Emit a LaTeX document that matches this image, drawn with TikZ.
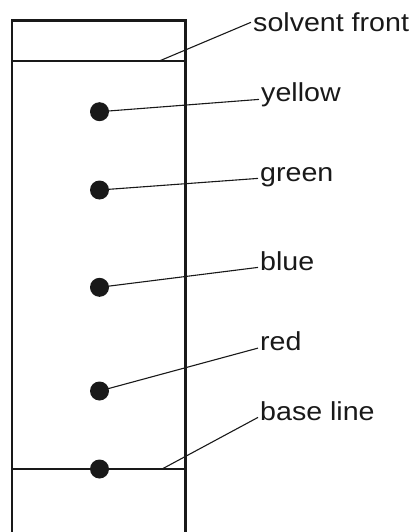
\documentclass[tikz,border=0pt]{standalone}
\usepackage{fontspec}
\newfontfamily\lblfont[FakeStretch=1.1]{Liberation Sans}
\tikzset{
  strip/.style={line width=2.2pt,draw=black!90},
  leader/.style={line width=1.1pt,draw=black!90},
  spot/.style={circle,fill=black!90,minimum size=19pt,inner sep=0pt},
  lbl/.style={anchor=base west,inner sep=2pt,text=black!90,text height=0.72em,text depth=0.2em,
    font=\lblfont\fontsize{26}{30}\selectfont}
}

\begin{document}
\begin{tikzpicture}[x=1pt,y=-1pt]
            \useasboundingbox (0,0) rectangle (416,532);
            \draw[strip] (12,532) --(12,20.5) --(185.5,20.5) --(185.5,532);
            \draw[strip] (12,60.7) --(185.5,60.7);
            \draw[strip] (12,469) --(185.5,469);
            \coordinate (frontpt) at (160,60.7);
            \coordinate (basept) at (163,468.5);
            \node[spot] (yellowspot) at (99.5,111.7) {};
            \node[spot] (greenspot) at (99.5,190) {};
            \node[spot] (bluespot) at (99.5,287.3) {};
            \node[spot] (redspot) at (99.5,391) {};
            \node[spot] (startspot) at (99.5,469) {};
            \node[lbl] (frontlbl) at (251,31.7) {solvent front};
            \node[lbl] (yellowlbl) at (259,102) {yellow};
            \node[lbl] (greenlbl) at (258,181) {green};
            \node[lbl] (bluelbl) at (258,270) {blue};
            \node[lbl] (redlbl) at (258,350.7) {red};
            \node[lbl] (baselbl) at (258,420) {base line};
            \draw[leader] (frontpt) --(frontlbl.north west);
            \draw[leader] (yellowspot.center) --(yellowlbl.west);
            \draw[leader] (greenspot.center) --(greenlbl.west);
            \draw[leader] (bluespot.center) --(bluelbl.west);
            \draw[leader] (redspot.center) --(redlbl.west);
            \draw[leader] (basept) --(baselbl.west);
        \end{tikzpicture}
\end{document}
